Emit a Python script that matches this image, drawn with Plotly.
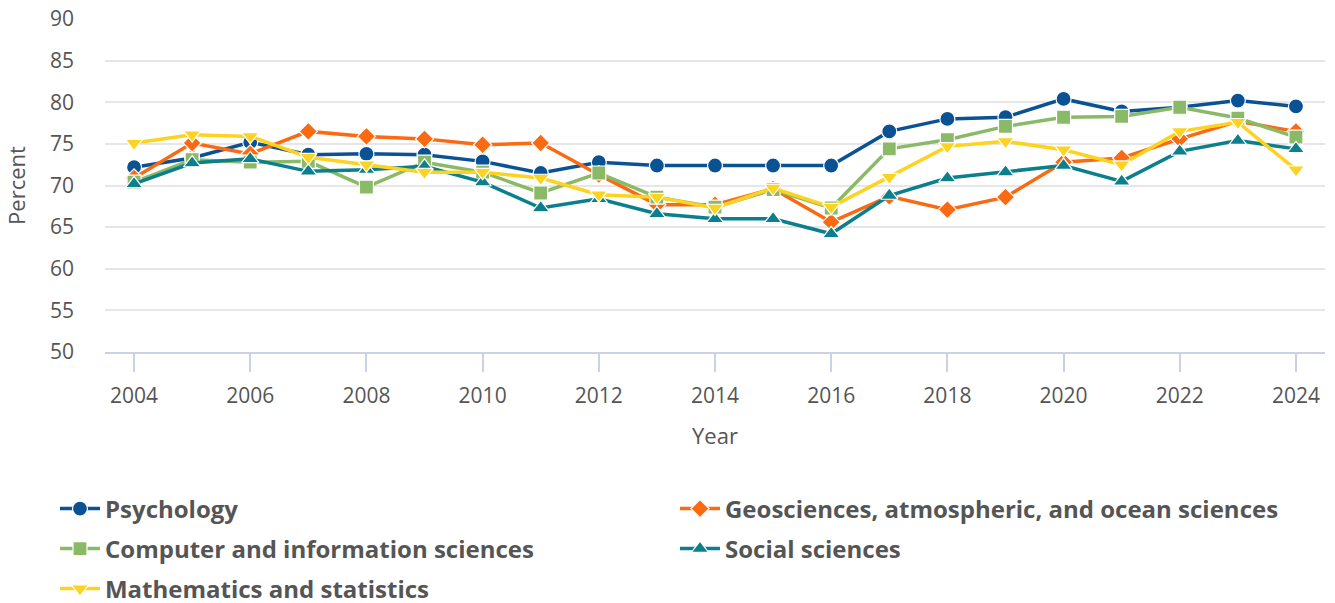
import plotly.graph_objects as go

years = list(range(2004, 2025))

psychology = [72.2, 73.3, 75.2, 73.7, 73.8, 73.7, 72.9, 71.5, 72.8, 72.4, 72.4, 72.4, 72.4,
              76.5, 78.0, 78.2, 80.4, 78.9, 79.4, 80.2, 79.5]
geosciences = [70.9, 75.1, 73.8, 76.5, 75.9, 75.6, 74.9, 75.1, 71.3, 67.7, 67.7, 69.6, 65.6,
               68.7, 67.1, 68.6, 72.8, 73.3, 75.6, 77.7, 76.5]
computer = [70.4, 73.1, 72.8, 72.9, 69.8, 72.8, 71.6, 69.1, 71.5, 68.6, 67.4, 69.5, 67.3,
            74.4, 75.5, 77.1, 78.2, 78.3, 79.4, 78.1, 75.8]
social = [70.2, 72.7, 73.2, 71.7, 71.9, 72.3, 70.4, 67.3, 68.4, 66.6, 66.0, 66.0, 64.2,
          68.8, 70.9, 71.6, 72.4, 70.5, 74.1, 75.4, 74.4]
math_stats = [75.1, 76.1, 75.9, 73.4, 72.5, 71.6, 71.6, 70.9, 68.9, 68.6, 67.3, 69.7, 67.4,
              71.0, 74.7, 75.3, 74.3, 72.5, 76.5, 77.6, 71.9]

series = [
    ("Psychology", psychology, "#0a5294", "circle", 15, "legend"),
    ("Geosciences, atmospheric, and ocean sciences", geosciences, "#fa6a12", "diamond", 14, "legend"),
    ("Computer and information sciences", computer, "#8aba67", "square", 14, "legend2"),
    ("Social sciences", social, "#0b7f8b", "triangle-up", 15, "legend2"),
    ("Mathematics and statistics", math_stats, "#fdd31f", "triangle-down", 15, "legend3"),
]

fig = go.Figure()
for name, vals, color, sym, size, leg in series:
    fig.add_trace(go.Scatter(
        x=years, y=vals, name=name, mode="lines+markers", legend=leg,
        line=dict(color=color, width=3.5),
        marker=dict(symbol=sym, size=size, color=color,
                    line=dict(color="#ffffff", width=1.2)),
    ))

W, H = 1335, 603
M_L, M_R, M_T, M_B = 105, 10, 19, 251
plot_h = H - M_T - M_B
plot_bottom = H - M_B


def row_y(py):
    return (plot_bottom - py) / plot_h


legend_common = dict(
    orientation="h", x=-0.041, xanchor="left", yanchor="middle",
    entrywidth=565, entrywidthmode="pixels",
    font=dict(size=24, color="#555555", family="Open Sans", weight="bold"),
    itemwidth=40, bgcolor="rgba(0,0,0,0)",
)

fig.update_layout(
    width=W, height=H,
    paper_bgcolor="#ffffff", plot_bgcolor="#ffffff",
    font=dict(family="Open Sans", color="#555555", size=21),
    margin=dict(l=M_L, r=M_R, t=M_T, b=M_B, autoexpand=False),
    xaxis=dict(
        range=[2003.5, 2024.5], tickmode="array",
        tickvals=list(range(2004, 2025, 2)),
        showgrid=False, zeroline=False,
        showline=True, linecolor="#c9d3e6", linewidth=2,
        ticks="outside", ticklen=18, tickcolor="#c9d3e6", tickwidth=2,
        ticklabelstandoff=6,
        tickfont=dict(size=21, color="#555555"),
        title=dict(text="Year", font=dict(size=22, color="#555555"), standoff=20),
    ),
    yaxis=dict(
        range=[50, 90], tickmode="array", tickvals=list(range(50, 95, 5)),
        showgrid=True, gridcolor="#e6e6e6", gridwidth=2, zeroline=False,
        showline=False, ticks="", ticklabelstandoff=30,
        tickfont=dict(size=21, color="#555555"),
        title=dict(text="Percent", font=dict(size=22, color="#555555"), standoff=18),
    ),
    legend=dict(y=row_y(509), **legend_common),
    legend2=dict(y=row_y(549), **legend_common),
    legend3=dict(y=row_y(589), **legend_common),
)

fig.write_html(
    "out.html",
    config={"displayModeBar": False},
    post_script="document.body.style.margin='0px';document.body.style.overflow='hidden';",
)
